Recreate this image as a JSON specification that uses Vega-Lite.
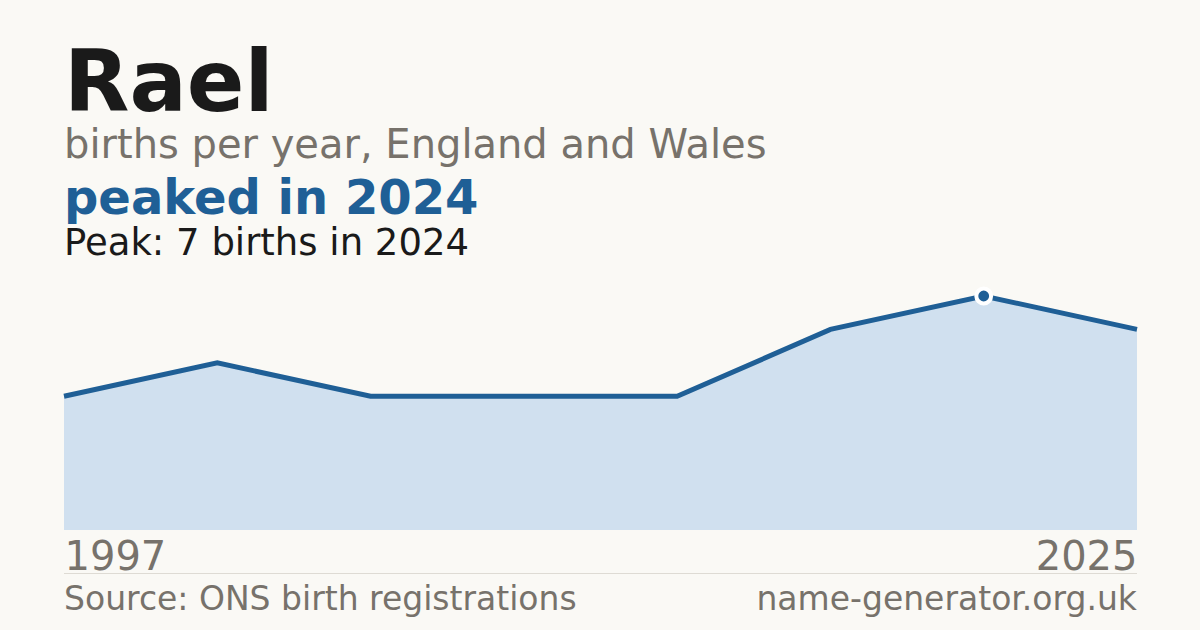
{
  "$schema": "https://vega.github.io/schema/vega-lite/v6.json",
  "width": 1073,
  "height": 458,
  "autosize": {"type": "none"},
  "padding": {"left": 64, "right": 63, "top": 172, "bottom": 0},
  "background": "#faf9f5",
  "config": {
    "view": {"stroke": null},
    "font": "DejaVu Sans"
  },
  "title": {
    "text": "Rael",
    "subtitle": "births per year, England and Wales",
    "anchor": "start",
    "frame": "group",
    "font": "DejaVu Sans",
    "fontSize": 85,
    "fontWeight": "bold",
    "color": "#1a1a1a",
    "subtitleFont": "DejaVu Sans",
    "subtitleFontSize": 40,
    "subtitleColor": "#77726b",
    "subtitlePadding": -3,
    "offset": 5
  },
  "data": {
    "values": [
      {"year": "1997", "births": 4},
      {"year": "2002", "births": 5},
      {"year": "2009", "births": 4},
      {"year": "2015", "births": 4},
      {"year": "2020", "births": 4},
      {"year": "2023", "births": 6},
      {"year": "2024", "births": 7},
      {"year": "2025", "births": 6},
      {"note": "headline", "label": "peaked in 2024"},
      {"note": "peak", "label": "Peak: 7 births in 2024"},
      {"note": "source", "label": "Source: ONS birth registrations"},
      {"note": "site", "label": "name-generator.org.uk"}
    ]
  },
  "layer": [
    {
      "transform": [{"filter": "isValid(datum.births)"}],
      "mark": {"type": "area", "color": "#d0e0ef"},
      "encoding": {
        "x": {
          "field": "year",
          "type": "ordinal",
          "scale": {"type": "point", "padding": 0},
          "axis": {
            "title": null,
            "values": ["1997", "2025"],
            "offset": -100,
            "labelAngle": 0,
            "labelFontSize": 40,
            "labelColor": "#77726b",
            "labelPadding": 7,
            "labelAlign": {"condition": {"test": "datum.value == '1997'", "value": "left"}, "value": "right"},
            "domain": false,
            "ticks": false,
            "grid": false
          }
        },
        "y": {
          "field": "births",
          "type": "quantitative",
          "scale": {"domain": [-2.9915, 10.7094], "nice": false, "zero": false},
          "axis": null
        },
        "y2": {"datum": 0}
      }
    },
    {
      "transform": [{"filter": "isValid(datum.births)"}],
      "mark": {"type": "line", "color": "#1f5f96", "strokeWidth": 5},
      "encoding": {
        "x": {"field": "year", "type": "ordinal"},
        "y": {"field": "births", "type": "quantitative"}
      }
    },
    {
      "transform": [
        {"filter": "isValid(datum.births)"},
        {"joinaggregate": [{"op": "max", "field": "births", "as": "peak"}]},
        {"filter": "datum.births == datum.peak"}
      ],
      "mark": {"type": "point", "filled": true, "color": "#1f5f96", "size": 220, "stroke": "white", "strokeWidth": 4, "opacity": 1},
      "encoding": {
        "x": {"field": "year", "type": "ordinal"},
        "y": {"field": "births", "type": "quantitative"}
      }
    },
    {
      "transform": [{"filter": "datum.note == 'headline'"}],
      "mark": {"type": "text", "align": "left", "baseline": "alphabetic", "fontSize": 48, "fontWeight": "bold", "color": "#1f5f96"},
      "encoding": {"x": {"datum": "1997", "type": "ordinal"}, "y": {"datum": 9.453, "type": "quantitative"}, "text": {"field": "label", "type": "nominal"}}
    },
    {
      "transform": [{"filter": "datum.note == 'peak'"}],
      "mark": {"type": "text", "align": "left", "baseline": "alphabetic", "fontSize": 37, "color": "#1a1a1a"},
      "encoding": {"x": {"datum": "1997", "type": "ordinal"}, "y": {"datum": 8.227, "type": "quantitative"}, "text": {"field": "label", "type": "nominal"}}
    },
    {
      "transform": [{"filter": "datum.note == 'source'"}],
      "mark": {"type": "rule", "color": "#dedbd4", "strokeWidth": 1},
      "encoding": {"x": {"datum": "1997", "type": "ordinal"}, "x2": {"datum": "2025"}, "y": {"datum": -1.301, "type": "quantitative"}}
    },
    {
      "transform": [{"filter": "datum.note == 'source'"}],
      "mark": {"type": "text", "align": "left", "baseline": "alphabetic", "fontSize": 33, "color": "#77726b"},
      "encoding": {"x": {"datum": "1997", "type": "ordinal"}, "y": {"datum": -2.393, "type": "quantitative"}, "text": {"field": "label", "type": "nominal"}}
    },
    {
      "transform": [{"filter": "datum.note == 'site'"}],
      "mark": {"type": "text", "align": "right", "baseline": "alphabetic", "fontSize": 33, "color": "#77726b"},
      "encoding": {"x": {"datum": "2025", "type": "ordinal"}, "y": {"datum": -2.393, "type": "quantitative"}, "text": {"field": "label", "type": "nominal"}}
    }
  ]
}
